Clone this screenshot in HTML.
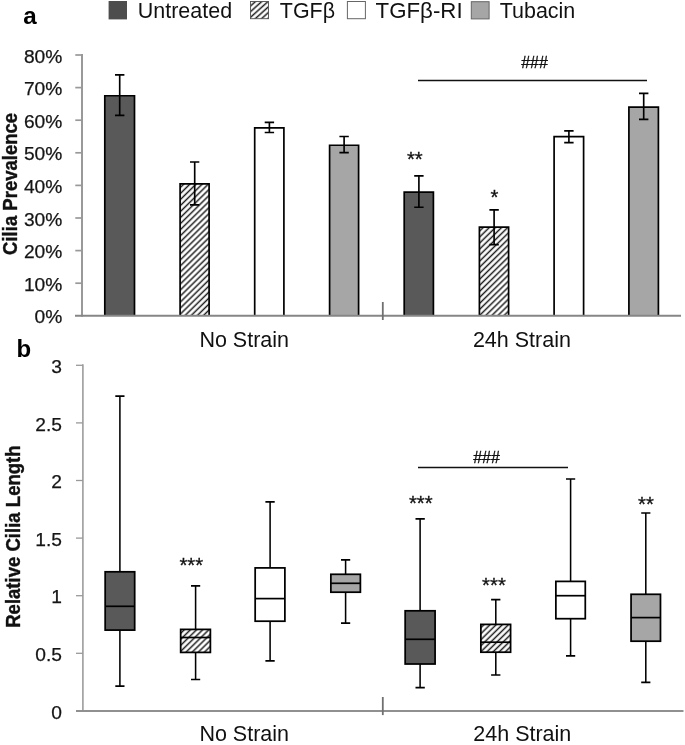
<!DOCTYPE html>
<html><head><meta charset="utf-8"><title>Figure</title>
<style>html,body{margin:0;padding:0;background:#fff;}svg{display:block;will-change:transform;}</style></head><body>
<svg width="685" height="745" viewBox="0 0 685 745">
<defs><pattern id="hatch" patternUnits="userSpaceOnUse" width="10" height="4.3" patternTransform="rotate(-44.5)"><rect width="10" height="4.3" fill="#fff"/><rect y="1.4" width="10" height="1.48" fill="#1c1c1c"/></pattern><pattern id="hatchL" patternUnits="userSpaceOnUse" width="10" height="4.2" patternTransform="translate(0,2.6) rotate(-42)"><rect width="10" height="4.2" fill="#fff"/><rect y="1.4" width="10" height="1.48" fill="#1c1c1c"/></pattern></defs>
<rect width="685" height="745" fill="#fff"/>
<path d="M104.80 315.80V95.75H134.50V315.80" fill="#595959" stroke="#000" stroke-width="1.7" stroke-linejoin="miter"/>
<path d="M180.10 315.80V183.85H209.10V315.80" fill="url(#hatch)" stroke="#000" stroke-width="1.7" stroke-linejoin="miter"/>
<path d="M254.70 315.80V127.85H283.90V315.80" fill="#ffffff" stroke="#000" stroke-width="1.7" stroke-linejoin="miter"/>
<path d="M329.60 315.80V145.25H358.60V315.80" fill="#a6a6a6" stroke="#000" stroke-width="1.7" stroke-linejoin="miter"/>
<path d="M404.20 315.80V192.05H433.40V315.80" fill="#595959" stroke="#000" stroke-width="1.7" stroke-linejoin="miter"/>
<path d="M479.40 315.80V227.05H508.60V315.80" fill="url(#hatch)" stroke="#000" stroke-width="1.7" stroke-linejoin="miter"/>
<path d="M554.10 315.80V136.65H583.60V315.80" fill="#ffffff" stroke="#000" stroke-width="1.7" stroke-linejoin="miter"/>
<path d="M628.90 315.80V107.15H658.40V315.80" fill="#a6a6a6" stroke="#000" stroke-width="1.7" stroke-linejoin="miter"/>
<path d="M115.0 74.8H124.4M115.0 115.3H124.4M119.7 74.8V115.3" stroke="#000" stroke-width="1.65" fill="none"/>
<path d="M190.0 162.0H199.3M190.0 204.9H199.3M194.7 162.0V204.9" stroke="#000" stroke-width="1.65" fill="none"/>
<path d="M264.7 122.3H274.1M264.7 132.5H274.1M269.4 122.3V132.5" stroke="#000" stroke-width="1.65" fill="none"/>
<path d="M339.4 136.5H348.8M339.4 152.6H348.8M344.1 136.5V152.6" stroke="#000" stroke-width="1.65" fill="none"/>
<path d="M414.2 175.9H423.6M414.2 207.2H423.6M418.9 175.9V207.2" stroke="#000" stroke-width="1.65" fill="none"/>
<path d="M489.4 209.9H498.8M489.4 244.6H498.8M494.1 209.9V244.6" stroke="#000" stroke-width="1.65" fill="none"/>
<path d="M564.2 130.8H573.6M564.2 142.6H573.6M568.9 130.8V142.6" stroke="#000" stroke-width="1.65" fill="none"/>
<path d="M639.0 93.4H648.4M639.0 119.4H648.4M643.7 93.4V119.4" stroke="#000" stroke-width="1.65" fill="none"/>
<line x1="82.0" y1="54.0" x2="82.0" y2="316.8" stroke="#999999" stroke-width="2"/>
<line x1="75" y1="315.8" x2="681" y2="315.8" stroke="#868686" stroke-width="2"/>
<line x1="75.3" y1="283.2" x2="82.0" y2="283.2" stroke="#999999" stroke-width="1.7"/>
<line x1="75.3" y1="250.6" x2="82.0" y2="250.6" stroke="#999999" stroke-width="1.7"/>
<line x1="75.3" y1="218.0" x2="82.0" y2="218.0" stroke="#999999" stroke-width="1.7"/>
<line x1="75.3" y1="185.4" x2="82.0" y2="185.4" stroke="#999999" stroke-width="1.7"/>
<line x1="75.3" y1="152.8" x2="82.0" y2="152.8" stroke="#999999" stroke-width="1.7"/>
<line x1="75.3" y1="120.2" x2="82.0" y2="120.2" stroke="#999999" stroke-width="1.7"/>
<line x1="75.3" y1="87.6" x2="82.0" y2="87.6" stroke="#999999" stroke-width="1.7"/>
<line x1="75.3" y1="55.0" x2="82.0" y2="55.0" stroke="#999999" stroke-width="1.7"/>
<line x1="382.8" y1="302" x2="382.8" y2="320" stroke="#707070" stroke-width="1.8"/>
<text x="62.3" y="323.4" text-anchor="end" font-size="19.2" font-family="Liberation Sans, sans-serif" fill="#151515" stroke="#151515" stroke-width="0.25">0%</text>
<text x="62.3" y="290.8" text-anchor="end" font-size="19.2" font-family="Liberation Sans, sans-serif" fill="#151515" stroke="#151515" stroke-width="0.25">10%</text>
<text x="62.3" y="258.2" text-anchor="end" font-size="19.2" font-family="Liberation Sans, sans-serif" fill="#151515" stroke="#151515" stroke-width="0.25">20%</text>
<text x="62.3" y="225.6" text-anchor="end" font-size="19.2" font-family="Liberation Sans, sans-serif" fill="#151515" stroke="#151515" stroke-width="0.25">30%</text>
<text x="62.3" y="193.0" text-anchor="end" font-size="19.2" font-family="Liberation Sans, sans-serif" fill="#151515" stroke="#151515" stroke-width="0.25">40%</text>
<text x="62.3" y="160.4" text-anchor="end" font-size="19.2" font-family="Liberation Sans, sans-serif" fill="#151515" stroke="#151515" stroke-width="0.25">50%</text>
<text x="62.3" y="127.8" text-anchor="end" font-size="19.2" font-family="Liberation Sans, sans-serif" fill="#151515" stroke="#151515" stroke-width="0.25">60%</text>
<text x="62.3" y="95.2" text-anchor="end" font-size="19.2" font-family="Liberation Sans, sans-serif" fill="#151515" stroke="#151515" stroke-width="0.25">70%</text>
<text x="62.3" y="62.6" text-anchor="end" font-size="19.2" font-family="Liberation Sans, sans-serif" fill="#151515" stroke="#151515" stroke-width="0.25">80%</text>
<line x1="82.9" y1="364.3" x2="82.9" y2="711.9" stroke="#999999" stroke-width="1.55"/>
<line x1="76" y1="710.9" x2="683.5" y2="710.9" stroke="#909090" stroke-width="2"/>
<line x1="76" y1="653.3" x2="82.9" y2="653.3" stroke="#999999" stroke-width="1.3"/>
<line x1="76" y1="595.7" x2="82.9" y2="595.7" stroke="#999999" stroke-width="1.3"/>
<line x1="76" y1="538.1" x2="82.9" y2="538.1" stroke="#999999" stroke-width="1.3"/>
<line x1="76" y1="480.5" x2="82.9" y2="480.5" stroke="#999999" stroke-width="1.3"/>
<line x1="76" y1="422.9" x2="82.9" y2="422.9" stroke="#999999" stroke-width="1.3"/>
<line x1="76" y1="365.3" x2="82.9" y2="365.3" stroke="#999999" stroke-width="1.3"/>
<line x1="382.8" y1="697" x2="382.8" y2="715.1" stroke="#707070" stroke-width="1.8"/>
<text x="62.0" y="718.5" text-anchor="end" font-size="19.2" font-family="Liberation Sans, sans-serif" fill="#151515" stroke="#151515" stroke-width="0.25">0</text>
<text x="62.0" y="660.9" text-anchor="end" font-size="19.2" font-family="Liberation Sans, sans-serif" fill="#151515" stroke="#151515" stroke-width="0.25">0.5</text>
<text x="62.0" y="603.3" text-anchor="end" font-size="19.2" font-family="Liberation Sans, sans-serif" fill="#151515" stroke="#151515" stroke-width="0.25">1</text>
<text x="62.0" y="545.7" text-anchor="end" font-size="19.2" font-family="Liberation Sans, sans-serif" fill="#151515" stroke="#151515" stroke-width="0.25">1.5</text>
<text x="62.0" y="488.1" text-anchor="end" font-size="19.2" font-family="Liberation Sans, sans-serif" fill="#151515" stroke="#151515" stroke-width="0.25">2</text>
<text x="62.0" y="430.5" text-anchor="end" font-size="19.2" font-family="Liberation Sans, sans-serif" fill="#151515" stroke="#151515" stroke-width="0.25">2.5</text>
<text x="62.0" y="372.9" text-anchor="end" font-size="19.2" font-family="Liberation Sans, sans-serif" fill="#151515" stroke="#151515" stroke-width="0.25">3</text>
<path d="M119.9 396.2V686.2" stroke="#000" stroke-width="1.55" fill="none"/>
<path d="M115.3 396.2H124.5M115.3 686.2H124.5" stroke="#000" stroke-width="1.7" fill="none"/>
<rect x="105.17" y="571.80" width="29.51" height="58.30" fill="#595959" stroke="#000" stroke-width="1.75"/>
<line x1="105.17" y1="606.3" x2="134.68" y2="606.3" stroke="#000" stroke-width="1.7"/>
<path d="M195.6 585.9V679.5" stroke="#000" stroke-width="1.55" fill="none"/>
<path d="M191.0 585.9H200.2M191.0 679.5H200.2" stroke="#000" stroke-width="1.7" fill="none"/>
<rect x="180.67" y="629.40" width="29.71" height="23.00" fill="url(#hatch)" stroke="#000" stroke-width="1.75"/>
<line x1="180.67" y1="637.5" x2="210.38" y2="637.5" stroke="#000" stroke-width="1.7"/>
<path d="M270.1 501.8V660.8" stroke="#000" stroke-width="1.55" fill="none"/>
<path d="M265.4 501.8H274.7M265.4 660.8H274.7" stroke="#000" stroke-width="1.7" fill="none"/>
<rect x="255.17" y="567.90" width="29.71" height="53.30" fill="#ffffff" stroke="#000" stroke-width="1.75"/>
<line x1="255.17" y1="598.6" x2="284.88" y2="598.6" stroke="#000" stroke-width="1.7"/>
<path d="M345.6 559.9V623.2" stroke="#000" stroke-width="1.55" fill="none"/>
<path d="M341.0 559.9H350.2M341.0 623.2H350.2" stroke="#000" stroke-width="1.7" fill="none"/>
<rect x="330.87" y="574.30" width="29.51" height="17.90" fill="#a6a6a6" stroke="#000" stroke-width="1.75"/>
<line x1="330.87" y1="583.3" x2="360.38" y2="583.3" stroke="#000" stroke-width="1.7"/>
<path d="M420.1 518.9V687.7" stroke="#000" stroke-width="1.55" fill="none"/>
<path d="M415.5 518.9H424.8M415.5 687.7H424.8" stroke="#000" stroke-width="1.7" fill="none"/>
<rect x="405.17" y="610.80" width="29.91" height="53.20" fill="#595959" stroke="#000" stroke-width="1.75"/>
<line x1="405.17" y1="639.3" x2="435.08" y2="639.3" stroke="#000" stroke-width="1.7"/>
<path d="M495.8 599.6V675.0" stroke="#000" stroke-width="1.55" fill="none"/>
<path d="M491.1 599.6H500.4M491.1 675.0H500.4" stroke="#000" stroke-width="1.7" fill="none"/>
<rect x="480.87" y="624.40" width="29.71" height="27.80" fill="url(#hatch)" stroke="#000" stroke-width="1.75"/>
<line x1="480.87" y1="642.2" x2="510.58" y2="642.2" stroke="#000" stroke-width="1.7"/>
<path d="M570.6 479.0V655.8" stroke="#000" stroke-width="1.55" fill="none"/>
<path d="M566.0 479.0H575.2M566.0 655.8H575.2" stroke="#000" stroke-width="1.7" fill="none"/>
<rect x="555.87" y="581.40" width="29.41" height="37.30" fill="#ffffff" stroke="#000" stroke-width="1.75"/>
<line x1="555.87" y1="595.7" x2="585.28" y2="595.7" stroke="#000" stroke-width="1.7"/>
<path d="M645.8 513.0V682.4" stroke="#000" stroke-width="1.55" fill="none"/>
<path d="M641.2 513.0H650.4M641.2 682.4H650.4" stroke="#000" stroke-width="1.7" fill="none"/>
<rect x="631.07" y="594.30" width="29.41" height="46.90" fill="#a6a6a6" stroke="#000" stroke-width="1.75"/>
<line x1="631.07" y1="617.6" x2="660.48" y2="617.6" stroke="#000" stroke-width="1.7"/>
<rect x="108.6" y="1" width="18.4" height="18.4" fill="#4d4d4d"/>
<rect x="250.5" y="1.5" width="18" height="17.2" fill="url(#hatchL)" stroke="#505050" stroke-width="0.9"/>
<rect x="347.4" y="1.5" width="18" height="17.2" fill="#fff" stroke="#666" stroke-width="1"/>
<rect x="471.3" y="1.7" width="17.8" height="17.2" fill="#a6a6a6" stroke="#666" stroke-width="1"/>
<text x="137.8" y="17.7" font-size="21.3" font-family="Liberation Sans, sans-serif" fill="#111" textLength="94.3" lengthAdjust="spacingAndGlyphs">Untreated</text>
<text x="279.8" y="17.7" font-size="21.3" font-family="Liberation Sans, sans-serif" fill="#111" textLength="55.2" lengthAdjust="spacingAndGlyphs">TGFβ</text>
<text x="375.6" y="17.7" font-size="21.3" font-family="Liberation Sans, sans-serif" fill="#111" textLength="87.0" lengthAdjust="spacingAndGlyphs">TGFβ-RI</text>
<text x="499.7" y="17.7" font-size="21.3" font-family="Liberation Sans, sans-serif" fill="#111" textLength="75.6" lengthAdjust="spacingAndGlyphs">Tubacin</text>
<text x="23.2" y="23.8" font-size="24.2" font-weight="bold" font-family="Liberation Sans, sans-serif" fill="#000">a</text>
<text x="16.5" y="356.8" font-size="24" font-weight="bold" font-family="Liberation Sans, sans-serif" fill="#000">b</text>
<text x="199.4" y="347.3" font-size="21.5" font-family="Liberation Sans, sans-serif" fill="#111">No Strain</text>
<text x="472.9" y="347.3" font-size="21.5" font-family="Liberation Sans, sans-serif" fill="#111">24h Strain</text>
<text x="199.4" y="741.4" font-size="21.5" font-family="Liberation Sans, sans-serif" fill="#111">No Strain</text>
<text x="473.3" y="741.4" font-size="21.5" font-family="Liberation Sans, sans-serif" fill="#111">24h Strain</text>
<text transform="translate(16.8,254.9) rotate(-90)" font-size="19.3" font-weight="bold" font-family="Liberation Sans, sans-serif" fill="#111" stroke="#111" stroke-width="0.35" textLength="142" lengthAdjust="spacingAndGlyphs">Cilia Prevalence</text>
<text transform="translate(20.1,627.8) rotate(-90)" font-size="19.3" font-weight="bold" font-family="Liberation Sans, sans-serif" fill="#111" stroke="#111" stroke-width="0.35" textLength="182.4" lengthAdjust="spacingAndGlyphs">Relative Cilia Length</text>
<line x1="418" y1="80.4" x2="647" y2="80.4" stroke="#111" stroke-width="1.5"/>
<line x1="418" y1="467.4" x2="568" y2="467.4" stroke="#111" stroke-width="1.5"/>
<text x="521.2" y="68.3" font-size="16" font-family="Liberation Sans, sans-serif" fill="#111" stroke="#111" stroke-width="0.35">###</text>
<text x="473.2" y="462.5" font-size="16" font-family="Liberation Sans, sans-serif" fill="#111" stroke="#111" stroke-width="0.35">###</text>
<text x="406.9" y="165.8" font-size="20.3" font-family="Liberation Sans, sans-serif" fill="#111" stroke="#111" stroke-width="0.3">**</text>
<text x="490.5" y="204.3" font-size="20.3" font-family="Liberation Sans, sans-serif" fill="#111" stroke="#111" stroke-width="0.3">*</text>
<text x="179.4" y="572.4" font-size="20.3" font-family="Liberation Sans, sans-serif" fill="#111" stroke="#111" stroke-width="0.3">***</text>
<text x="408.9" y="510.4" font-size="20.3" font-family="Liberation Sans, sans-serif" fill="#111" stroke="#111" stroke-width="0.3">***</text>
<text x="482.1" y="592.3" font-size="20.3" font-family="Liberation Sans, sans-serif" fill="#111" stroke="#111" stroke-width="0.3">***</text>
<text x="638.0" y="510.9" font-size="20.3" font-family="Liberation Sans, sans-serif" fill="#111" stroke="#111" stroke-width="0.3">**</text>
</svg></body></html>
